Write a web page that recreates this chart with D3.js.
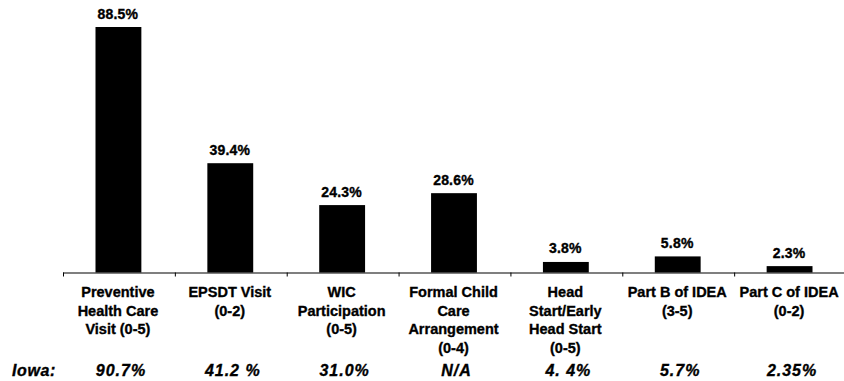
<!DOCTYPE html>
<html>
<head>
<meta charset="utf-8">
<script src="https://cdn.jsdelivr.net/npm/d3@7"></script>
<style>
  html, body { margin: 0; padding: 0; background: #fff; }
  svg { display: block; }
  text { font-family: "Liberation Sans", Arial, Helvetica, sans-serif; fill: #000; stroke: #000; stroke-width: 0.35px; }
</style>
</head>
<body>
<svg id="chart" width="844" height="381"></svg>
<script>
// ---- data ----
const categories = [
  ["Preventive", "Health Care", "Visit (0-5)"],
  ["EPSDT Visit", "(0-2)"],
  ["WIC", "Participation", "(0-5)"],
  ["Formal Child", "Care", "Arrangement", "(0-4)"],
  ["Head", "Start/Early", "Head Start", "(0-5)"],
  ["Part B of IDEA", "(3-5)"],
  ["Part C of IDEA", "(0-2)"]
];
const values = [88.5, 39.4, 24.3, 28.6, 3.8, 5.8, 2.3];
const valueLabels = ["88.5%", "39.4%", "24.3%", "28.6%", "3.8%", "5.8%", "2.3%"];
const iowaLabel = "Iowa:";
const iowaValues = ["90.7%", "41.2 %", "31.0%", "N/A", "4. 4%", "5.7%", "2.35%"];

// ---- layout ----
const svg = d3.select("#chart");
const x0 = 63, x1 = 846, baseY = 272.5, topY = 27;
const ids = categories.map((d, i) => i);

const x = d3.scaleBand().domain(ids).range([x0, x1]).padding(0);
const barW = x.bandwidth() * 0.41;
const y = d3.scaleLinear().domain([0, 88.5]).range([baseY, topY]);

// bars
svg.append("g").selectAll("rect").data(values).join("rect")
  .attr("x", (d, i) => x(i) + x.bandwidth() / 2 - barW / 2 - 0.5)
  .attr("y", d => y(d))
  .attr("width", barW)
  .attr("height", d => baseY - y(d))
  .attr("fill", "#000");

// value labels
svg.append("g").selectAll("text").data(values).join("text")
  .attr("x", (d, i) => x(i) + x.bandwidth() / 2 - 1)
  .attr("y", d => y(d) - 8.5)
  .attr("text-anchor", "middle")
  .style("font-size", "14px")
  .style("font-weight", "bold")
  .style("letter-spacing", "0.2px")
  .text((d, i) => valueLabels[i]);

// axis line + ticks at band boundaries
const axis = d3.axisBottom(x).tickSize(4).tickFormat("");
const ag = svg.append("g").attr("transform", `translate(0,${baseY})`).call(axis);
ag.select(".domain").remove();
ag.selectAll(".tick").attr("transform", d => `translate(${x(d) + 0.5},0)`);
ag.selectAll(".tick line").attr("stroke", "#000");
svg.append("line")
  .attr("x1", x0).attr("x2", x1)
  .attr("y1", baseY + 0.5).attr("y2", baseY + 0.5)
  .attr("stroke", "#000").attr("stroke-width", 1.2);

// category labels
const cg = svg.append("g").selectAll("text").data(categories).join("text")
  .attr("x", (d, i) => x(i) + x.bandwidth() / 2 - 1)
  .attr("y", 297)
  .attr("text-anchor", "middle")
  .style("font-size", "14.5px")
  .style("font-weight", "bold");
cg.selectAll("tspan").data((d, i) => d.map(t => ({ t, i }))).join("tspan")
  .attr("x", d => x(d.i) + x.bandwidth() / 2 - 1)
  .attr("dy", (d, j) => j === 0 ? 0 : 18.5)
  .text(d => d.t);

// Iowa row
const iowaY = 375.5;
svg.append("text")
  .attr("x", 12).attr("y", iowaY)
  .style("font-size", "16px").style("font-weight", "bold").style("font-style", "italic")
  .style("letter-spacing", "0.6px")
  .text(iowaLabel);
svg.append("g").selectAll("text").data(iowaValues).join("text")
  .attr("x", (d, i) => x(i) + x.bandwidth() / 2 + 2)
  .attr("y", iowaY)
  .attr("text-anchor", "middle")
  .style("font-size", "16px").style("font-weight", "bold").style("font-style", "italic")
  .style("letter-spacing", "1px")
  .text(d => d);
</script>
</body>
</html>
